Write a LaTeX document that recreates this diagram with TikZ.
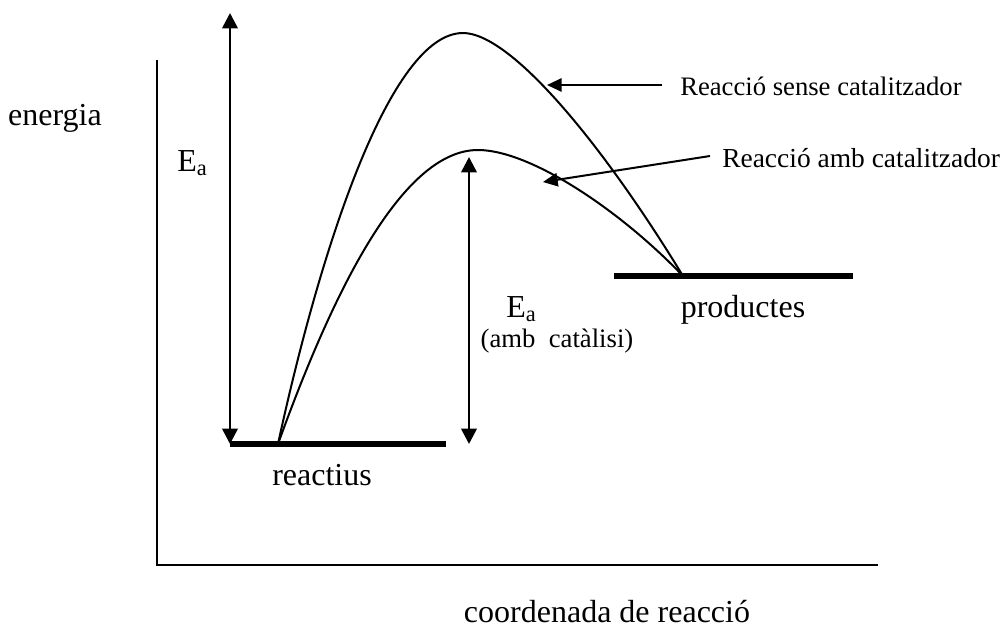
\documentclass[tikz,border=0pt]{standalone}
\usepackage{fontspec}
\setmainfont{Liberation Serif}
\usetikzlibrary{arrows.meta}
\tikzset{ecurve/.style={line width=1.5pt},
  ebar/.style={line width=4.2pt},
  eaxis/.style={line width=1.2pt},
  ebig/.style={line width=2pt,{Triangle[length=11.5pt,width=11.5pt]}-{Triangle[length=11.5pt,width=11.5pt]}},
  eleader/.style={line width=1.5pt,-{Triangle[length=11pt,width=10pt]}},
  elabel/.style={inner sep=0pt,font=\fontsize{24}{28}\selectfont},
  enote/.style={inner sep=0pt,font=\fontsize{20}{24}\selectfont}}

\begin{document}
\begin{tikzpicture}[x=0.75pt,y=-0.75pt]
  \useasboundingbox (0,0) rectangle (1001,629);

  \coordinate (o)   at (157,565);
  \coordinate (oy)  at (157,60);
  \coordinate (ox)  at (878,565);
  \coordinate (r1)  at (230,444);
  \coordinate (r2)  at (446,444);
  \coordinate (r)   at (278,444);
  \coordinate (p1)  at (614,276);
  \coordinate (p2)  at (853,276);
  \coordinate (p)   at (683,276);
  \coordinate (ts)  at (463,33);
  \coordinate (tc)  at (478,150);

  % axes
  \draw [eaxis] (oy) -- (o) -- (ox);

  % levels
  \draw [ebar] (r1) -- (r2);
  \draw [ebar] (p1) -- (p2);

  % reaction paths
  \draw [ecurve] (r) .. controls (320,250) and (390,33) .. (ts)
                     .. controls (510,33) and (600,140) .. (p);
  \draw [ecurve] (r) .. controls (330,300) and (400,150) .. (tc)
                     .. controls (530,150) and (620,210) .. (p);

  % activation energies
  \coordinate (eatop) at (230,13);
  \coordinate (eabot) at (230,444);
  \coordinate (ectop) at (469,157);
  \coordinate (ecbot) at (469,444);
  \draw [ebig] (eabot) -- (eatop);
  \draw [ebig] (ecbot) -- (ectop);

  \node [elabel,anchor=base]      (en)  at (55,125)  {energia};
  \node [elabel,anchor=base west] (ea)  at (177,171) {E\textsubscript{a}};
  \node [elabel,anchor=base west] (eac) at (506,317) {E\textsubscript{a}};
  \node [enote,anchor=base]       (cat) at (557,347) {(amb\ \ catàlisi)};
  \node [elabel,anchor=base]      (re)  at (322,485) {reactius};
  \node [elabel,anchor=base]      (pr)  at (743,317) {productes};
  \node [elabel,anchor=base]      (co)  at (607,622) {coordenada de reacció};

  % notes
  \node [enote,anchor=base west] (ns) at (680,95)  {Reacció sense catalitzador};
  \node [enote,anchor=base west,font=\fontsize{20.6}{24}\selectfont] (nc) at (722,167) {Reacció amb catalitzador};
  \coordinate (ss) at (662,85);
  \coordinate (se) at (547,85);
  \coordinate (cs) at (710,156);
  \coordinate (ce) at (543,182);
  \draw [eleader] (ss) -- (se);
  \draw [eleader] (cs) -- (ce);
\end{tikzpicture}
\end{document}
